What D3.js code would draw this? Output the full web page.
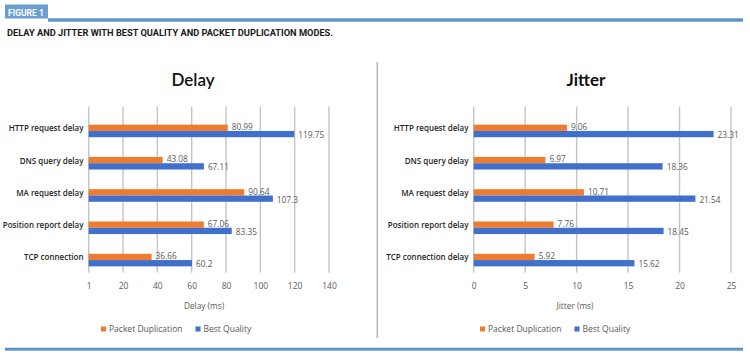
<!DOCTYPE html>
<html><head><meta charset="utf-8">
<script src="https://cdn.jsdelivr.net/npm/d3@7"></script>
<style>
html,body{margin:0;padding:0;background:#fff;}
svg{display:block;font-family:"Open Sans",sans-serif;}
</style></head>
<body><svg id="c" width="750" height="357"></svg>
<script>
const categories = ["HTTP request delay","DNS query delay","MA request delay","Position report delay","TCP connection"];
const jitterCategories = ["HTTP request delay","DNS query delay","MA request delay","Position report delay","TCP connection delay"];
const seriesNames = ["Packet Duplication","Best Quality"];
const delayPacketDup = [80.99,43.08,90.64,67.06,36.66];
const delayBestQuality = [119.75,67.11,107.3,83.35,60.2];
const jitterPacketDup = [9.06,6.97,10.71,7.76,5.92];
const jitterBestQuality = [23.31,18.36,21.54,18.45,15.62];
const delayTicks = [0,20,40,60,80,100,120,140];
const delayTickLabels = ["1","20","40","60","80","100","120","140"];
const jitterTicks = [0,5,10,15,20,25];
const jitterTickLabels = ["0","5","10","15","20","25"];
const colors = ["#ef7b2f","#4070cc"];

const svg = d3.select("#c");
const frameBlue = "#5e93c9";

// header
svg.append("rect").attr("x",5).attr("y",4.5).attr("width",43).attr("height",14).attr("fill","#6a9dd1");
svg.append("text").attr("x",8).attr("y",15.5).attr("fill","#fff").attr("font-family","Roboto,sans-serif")
  .attr("font-weight",700).attr("font-size",8.5).text("FIGURE 1");
svg.append("rect").attr("x",48).attr("y",18.3).attr("width",695).attr("height",3.4).attr("fill",frameBlue);
svg.append("text").attr("x",7).attr("y",36).attr("fill","#1a1a1a").attr("font-family","Roboto,sans-serif")
  .attr("font-weight",700).attr("font-size",9.6)
  .attr("textLength",326).attr("lengthAdjust","spacingAndGlyphs")
  .text("DELAY AND JITTER WITH BEST QUALITY AND PACKET DUPLICATION MODES.");
svg.append("rect").attr("x",5).attr("y",347.7).attr("width",738).attr("height",3).attr("fill",frameBlue);
svg.append("line").attr("x1",377.3).attr("x2",377.3).attr("y1",62).attr("y2",338)
  .attr("stroke","#b5b5b5").attr("stroke-width",1.5);

function panel(cfg){
  const g = svg.append("g");
  const x = d3.scaleLinear().domain(cfg.domain).range(cfg.xr);
  const y = d3.scaleBand().domain(cfg.cats).range([114.8,276.2]).paddingInner(0).paddingOuter(0);
  const sub = d3.scaleBand().domain([0,1]).range([0,12.6]);
  const off = (y.bandwidth()-12.6)/2;
  // title
  g.append("text").attr("x",cfg.titleX).attr("y",86).attr("text-anchor","middle")
    .attr("font-family","Lato,sans-serif").attr("font-weight",cfg.titleWeight).attr("font-size",17)
    .attr("fill","#111").text(cfg.title);
  // gridlines
  g.selectAll("line.grid").data(cfg.ticks).join("line").attr("class","grid")
    .attr("x1",d=>x(d)).attr("x2",d=>x(d)).attr("y1",106.7).attr("y2",272.7)
    .attr("stroke","#c4c4c4").attr("stroke-width",1.4);
  // tick labels via axis
  const ax = d3.axisBottom(x).tickValues(cfg.ticks).tickSize(0).tickPadding(0)
    .tickFormat((d,i)=>cfg.tickLabels[i]);
  const axg = g.append("g").attr("transform","translate(0,283)").call(ax);
  axg.select(".domain").remove();
  axg.selectAll("text").attr("font-size",8.5).attr("fill","#595959").attr("font-family","Open Sans,sans-serif");
  // category labels
  g.selectAll("text.cat").data(cfg.cats).join("text").attr("class","cat")
    .attr("x",cfg.catX).attr("y",d=>y(d)+y.bandwidth()/2).attr("dy","0.05em")
    .attr("text-anchor","end").attr("font-size",8).attr("font-weight",600).attr("fill","#262626")
    .text(d=>d);
  // bars
  cfg.series.forEach((vals,si)=>{
    g.selectAll("rect.s"+si).data(vals).join("rect").attr("class","s"+si)
      .attr("x",x(0)).attr("y",(d,i)=>y(cfg.cats[i])+off+sub(si))
      .attr("width",d=>x(d)-x(0)).attr("height",sub.bandwidth()).attr("fill",colors[si]);
    g.selectAll("text.v"+si).data(vals).join("text").attr("class","v"+si)
      .attr("x",d=>x(d)+4).attr("y",(d,i)=>y(cfg.cats[i])+off+sub(si)+sub.bandwidth()/2+(si===0?-0.5:1))
      .attr("dy","0.35em").attr("font-size",8.3).attr("fill","#595959").text(d=>String(d));
  });
  // axis title
  g.append("text").attr("x",cfg.axTitleX).attr("y",309).attr("text-anchor","middle")
    .attr("font-size",8.3).attr("fill","#595959").text(cfg.axTitle);
  // legend
  cfg.legendX.forEach((lx,i)=>{
    g.append("rect").attr("x",lx).attr("y",326.5).attr("width",5).attr("height",5).attr("fill",colors[i]);
    g.append("text").attr("x",lx+8).attr("y",329).attr("dy","0.35em").attr("font-size",8.5)
      .attr("fill","#595959").text(seriesNames[i]);
  });
}

panel({title:"Delay",titleX:193,titleWeight:600,domain:[0,140],xr:[88.7,329],ticks:delayTicks,tickLabels:delayTickLabels,
  cats:categories,catX:83.5,series:[delayPacketDup,delayBestQuality],axTitle:"Delay (ms)",axTitleX:204,legendX:[101,195.5]});
panel({title:"Jitter",titleX:586,titleWeight:700,domain:[0,25],xr:[473.7,731],ticks:jitterTicks,tickLabels:jitterTickLabels,
  cats:jitterCategories,catX:468.5,series:[jitterPacketDup,jitterBestQuality],axTitle:"Jitter (ms)",axTitleX:575,legendX:[480,574.5]});
</script></body></html>
